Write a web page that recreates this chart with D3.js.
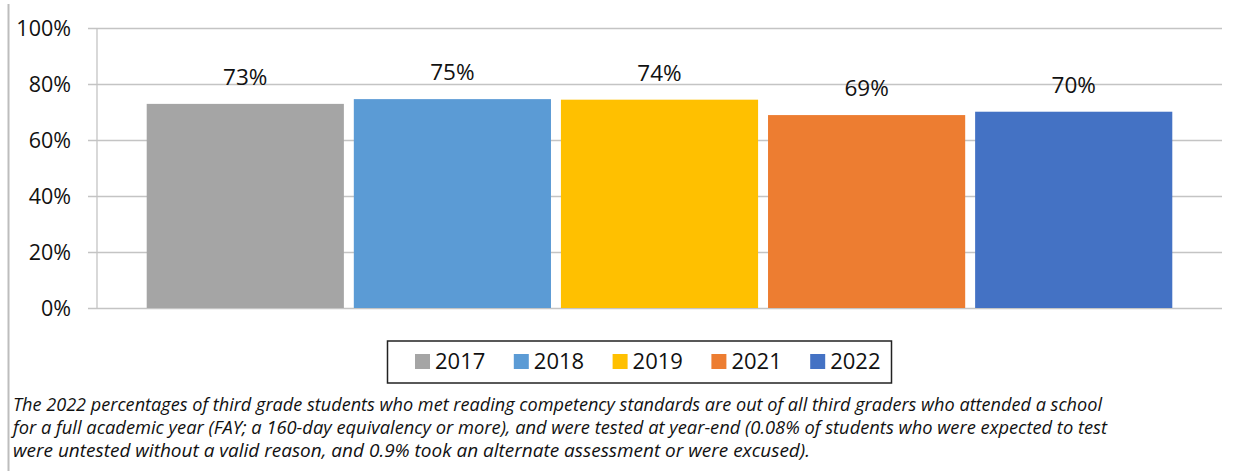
<!DOCTYPE html>
<html><head><meta charset="utf-8">
<script src="https://cdn.jsdelivr.net/npm/d3@7"></script>
<style>
html,body{margin:0;padding:0;background:#fff;}
svg{display:block;}
</style></head>
<body>
<svg id="chart" width="1243" height="471"></svg>
<script>
const years = ["2017", "2018", "2019", "2021", "2022"];
const values = [72.9, 74.6, 74.4, 68.9, 70.1];
const colors = ["#A5A5A5", "#5B9BD5", "#FFC000", "#ED7D31", "#4472C4"];
const yTicks = [0, 20, 40, 60, 80, 100];
const noteLines = [
  "The 2022 percentages of third grade students who met reading competency standards are out of all third graders who attended a school",
  "for a full academic year (FAY; a 160-day equivalency or more), and were tested at year-end (0.08% of students who were expected to test",
  "were untested without a valid reason, and 0.9% took an alternate assessment or were excused)."
];

const svg = d3.select("#chart");
const font = "'Open Sans', 'Noto Sans', sans-serif";
const plotL = 97, plotR = 1222, plotT = 28, plotB = 308;

// frame line at left
svg.append("line").attr("x1", 8.5).attr("x2", 8.5).attr("y1", 4).attr("y2", 471)
  .attr("stroke", "#bdbdbd").attr("stroke-width", 2);

const x = d3.scaleBand().domain(years).range([plotL, plotR]).paddingInner(0.048).paddingOuter(0.24);
const y = d3.scaleLinear().domain([0, 100]).range([plotB, plotT]);

// gridlines
svg.append("g").selectAll("line").data(yTicks).join("line")
  .attr("x1", 88).attr("x2", plotR)
  .attr("y1", d => y(d) + 0.5).attr("y2", d => y(d) + 0.5)
  .attr("stroke", "#c4c4c4").attr("stroke-width", 1.3);

// y axis line
svg.append("line").attr("x1", plotL).attr("x2", plotL).attr("y1", plotT).attr("y2", plotB + 0.5)
  .attr("stroke", "#c4c4c4").attr("stroke-width", 1.3);

// y labels
svg.append("g").selectAll("text").data(yTicks).join("text")
  .attr("x", 71).attr("y", d => y(d)).attr("dy", "0.36em")
  .attr("text-anchor", "end").attr("font-family", font).attr("font-size", 21.5)
  .attr("fill", "#111").text(d => d + "%");

// bars
svg.append("g").selectAll("rect").data(years).join("rect")
  .attr("x", d => x(d)).attr("width", x.bandwidth())
  .attr("y", (d, i) => y(values[i])).attr("height", (d, i) => y(0) - y(values[i]))
  .attr("fill", (d, i) => colors[i]);

// value labels
svg.append("g").selectAll("text").data(years).join("text")
  .attr("x", d => x(d) + x.bandwidth() / 2).attr("y", (d, i) => y(values[i]) - 19)
  .attr("text-anchor", "middle").attr("font-family", font).attr("font-size", 22.5)
  .attr("fill", "#111").text((d, i) => Math.round(values[i]) + "%");

// legend
svg.append("rect").attr("x", 387.5).attr("y", 341).attr("width", 504).attr("height", 42)
  .attr("fill", "#fff").attr("stroke", "#222").attr("stroke-width", 1.5);
const lg = svg.append("g").selectAll("g").data(years).join("g")
  .attr("transform", (d, i) => `translate(${415 + i * 98.8},354)`);
lg.append("rect").attr("width", 15).attr("height", 15).attr("fill", (d, i) => colors[i]);
lg.append("text").attr("x", 20).attr("y", 15).attr("font-family", font).attr("font-size", 22)
  .attr("fill", "#111").text(d => d);

// footnote
const widths = [1089, 1094, 797];
svg.append("g").selectAll("text").data(noteLines).join("text")
  .attr("x", 13).attr("y", (d, i) => 411 + i * 23)
  .attr("font-family", font).attr("font-style", "italic").attr("font-size", 18)
  .attr("fill", "#111")
  .attr("textLength", (d, i) => widths[i]).attr("lengthAdjust", "spacingAndGlyphs")
  .text(d => d);
</script>
</body></html>
